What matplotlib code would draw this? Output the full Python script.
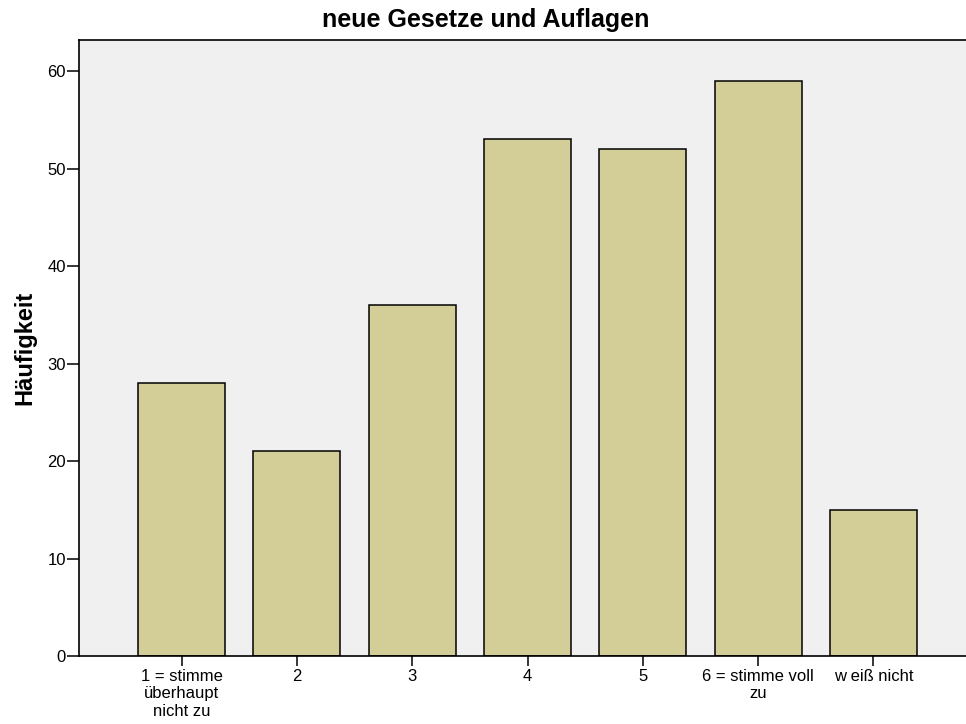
import matplotlib.pyplot as plt
import numpy as np

plt.rcParams['font.family'] = ['Liberation Sans', 'DejaVu Sans']

kategorien = ["1 = stimme\nüberhaupt\nnicht zu", "2", "3", "4", "5",
              "6 = stimme voll\nzu", "w eiß nicht"]
haeufigkeit = [28, 21, 36, 53, 52, 59, 15]
y_ticks = [0, 10, 20, 30, 40, 50, 60]

fig = plt.figure(figsize=(9.66, 7.24), dpi=100)
ax = fig.add_axes([79 / 966, 1 - 656 / 724, 1 - 79 / 966 + 0.002, (656 - 40) / 724])
ax.set_facecolor('#F0F0F0')

x = np.arange(len(kategorien))
ax.bar(x, haeufigkeit, width=0.755, color='#D3CE98', edgecolor='black', linewidth=1.1)

ax.set_xlim(-0.89, 6.82)
ax.set_ylim(0, 63.18)
ax.set_yticks(y_ticks)
ax.set_xticks(x)
ax.set_xticklabels(kategorien, linespacing=1.2)

ax.tick_params(axis='y', direction='out', length=8.5, width=1.1, labelsize=12, pad=1)
ax.tick_params(axis='x', direction='out', length=7.2, width=1.1, labelsize=12, pad=2)

for side in ['left', 'top', 'bottom']:
    ax.spines[side].set_linewidth(1.2)
ax.spines['right'].set_visible(False)

ax.set_ylabel('Häufigkeit', fontsize=17, fontweight='bold', labelpad=8)
fig.text(0.5 * (320 + 652) / 966, 1 - 20 / 724, 'neue Gesetze und Auflagen',
         fontsize=18, fontweight='bold', ha='center', va='center')

fig.savefig('out.png', dpi=100)
